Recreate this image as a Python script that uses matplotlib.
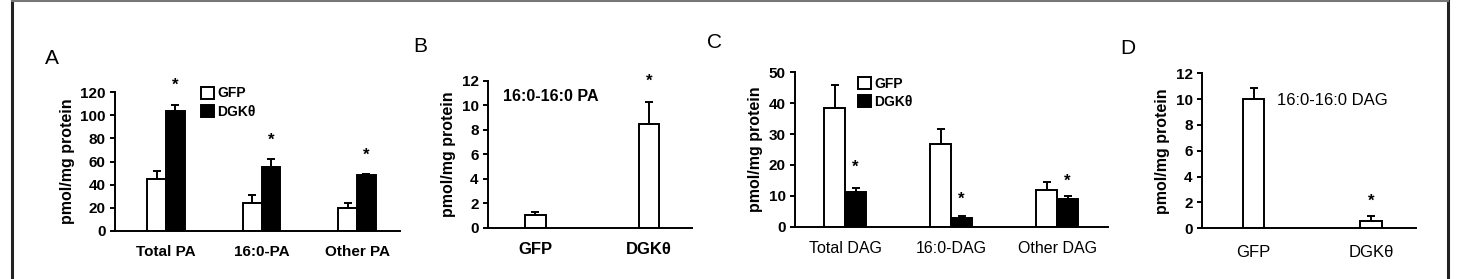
import matplotlib
matplotlib.use("Agg")
import matplotlib.pyplot as plt
import numpy as np
from matplotlib.patches import Patch
from matplotlib.lines import Line2D

plt.rcParams['font.family'] = ['Liberation Sans', 'DejaVu Sans']

# ---------------- data ----------------
series = ["GFP", "DGKθ"]
ylabel = "pmol/mg protein"

# Panel A
a_cats = ["Total PA", "16:0-PA", "Other PA"]
a_gfp = [45, 24, 20]
a_gfp_err = [6.5, 7, 4]
a_dgk = [104, 55.5, 48]
a_dgk_err = [5, 6.5, 0.8]
a_star_y = [126, 78, 65]
a_ticks = [0, 20, 40, 60, 80, 100, 120]

# Panel B
b_cats = ["GFP", "DGKθ"]
b_vals = [1.0, 8.5]
b_err = [0.3, 1.75]
b_star_y = 12.0
b_note = "16:0-16:0 PA"
b_ticks = [0, 2, 4, 6, 8, 10, 12]

# Panel C
c_cats = ["Total DAG", "16:0-DAG", "Other DAG"]
c_gfp = [38.5, 26.8, 11.9]
c_gfp_err = [7.5, 4.7, 2.5]
c_dgk = [11.1, 2.9, 8.9]
c_dgk_err = [1.5, 0.6, 1.0]
c_star_y = [19.4, 9.0, 14.6]
c_ticks = [0, 10, 20, 30, 40, 50]

# Panel D
d_cats = ["GFP", "DGKθ"]
d_vals = [10.0, 0.57]
d_err = [0.9, 0.35]
d_star_y = 2.1
d_note = "16:0-16:0 DAG"
d_ticks = [0, 2, 4, 6, 8, 10, 12]

# ---------------- figure ----------------
W, H = 1479, 279
fig = plt.figure(figsize=(W / 100, H / 100), dpi=100)

def add_ax(x0, x1, ytop, ybot):
    return fig.add_axes([x0 / W, (H - ybot) / H, (x1 - x0) / W, (ybot - ytop) / H])

YTFS = 11
LW = 1.4

def style(ax, ticks, xl, xfs, xpad, xweight="bold"):
    ax.set_ylim(0, ticks[-1])
    ax.set_yticks(ticks)
    ax.set_xlim(*xl)
    for s in ["top", "right"]:
        ax.spines[s].set_visible(False)
    ax.spines["left"].set_linewidth(LW)
    ax.spines["bottom"].set_linewidth(LW)
    ax.tick_params(axis="y", direction="out", length=3.6, width=LW, labelsize=YTFS, pad=3)
    ax.tick_params(axis="x", length=0, labelsize=xfs, pad=xpad)
    for lab in ax.get_yticklabels():
        lab.set_fontweight("bold")
    for lab in ax.get_xticklabels():
        lab.set_fontweight(xweight)
    ax.set_ylabel(ylabel, fontsize=11.5, fontweight="bold", labelpad=4)
    ax.patch.set_alpha(0)

ekw = dict(ecolor="black", elinewidth=LW, capsize=3, capthick=LW)

def grouped(ax, cats, gfp, gerr, dgk, derr, width, star_y):
    x = np.arange(len(cats))
    ax.bar(x - width / 2, gfp, width, color="white", edgecolor="black", linewidth=LW,
           yerr=[np.zeros(len(gfp)), gerr], error_kw=ekw, zorder=2)
    ax.bar(x + width / 2, dgk, width, color="black", edgecolor="black", linewidth=LW,
           yerr=[np.zeros(len(dgk)), derr], error_kw=ekw, zorder=2)
    for xi, sy in zip(x, star_y):
        ax.text(xi + width / 2, sy, "*", ha="center", va="center", fontsize=12, fontweight="bold")
    ax.set_xticks(x)
    ax.set_xticklabels(cats)

def legend(ax, anchor):
    handles = [Patch(facecolor="white", edgecolor="black", linewidth=LW),
               Patch(facecolor="black", edgecolor="black", linewidth=LW)]
    ax.legend(handles, series, loc="upper left", bbox_to_anchor=anchor, frameon=False,
              handlelength=0.95, handleheight=0.95, handletextpad=0.25, labelspacing=0.3,
              borderaxespad=0, borderpad=0, prop=dict(size=10, weight="bold"))

# Panel A
axA = add_ax(115, 400, 92, 231)
grouped(axA, a_cats, a_gfp, a_gfp_err, a_dgk, a_dgk_err, 0.194, a_star_y)
style(axA, a_ticks, (-0.534, 2.45), 11, 10)
legend(axA, (0.30, 1.04))

# Panel B
axB = add_ax(487.7, 691.7, 81, 227.7)
xb = np.arange(len(b_cats))
axB.bar(xb, b_vals, 0.18, color="white", edgecolor="black", linewidth=LW,
        yerr=[np.zeros(len(b_vals)), b_err], error_kw=ekw, zorder=2)
axB.text(xb[1], b_star_y, "*", ha="center", va="center", fontsize=12, fontweight="bold")
axB.text(-0.286, 10.7, b_note, ha="left", va="center", fontsize=11.5, fontweight="bold")
axB.set_xticks(xb)
axB.set_xticklabels(b_cats)
style(axB, b_ticks, (-0.421, 1.376), 12, 10)

# Panel C
axC = add_ax(795, 1108, 72.3, 226.7)
grouped(axC, c_cats, c_gfp, c_gfp_err, c_dgk, c_dgk_err, 0.198, c_star_y)
style(axC, c_ticks, (-0.472, 2.48), 11.5, 10, xweight="normal")
legend(axC, (0.20, 0.97))

# Panel D
axD = add_ax(1201.7, 1416, 73.3, 228.3)
xd = np.arange(len(d_cats))
axD.bar(xd, d_vals, 0.179, color="white", edgecolor="black", linewidth=LW,
        yerr=[np.zeros(len(d_vals)), d_err], error_kw=ekw, zorder=2)
axD.text(xd[1], d_star_y, "*", ha="center", va="center", fontsize=12, fontweight="bold")
axD.text(0.2, 9.93, d_note, ha="left", va="center", fontsize=12)
axD.set_xticks(xd)
axD.set_xticklabels(d_cats)
style(axD, d_ticks, (-0.441, 1.383), 12, 12, xweight="normal")

# Panel letters
for letter, px, py in [("A", 52, 58), ("B", 420, 47), ("C", 715, 43), ("D", 1128, 48)]:
    fig.text(px / W, 1 - py / H, letter, ha="center", va="center", fontsize=15)

# Outer frame
fig.add_artist(Line2D([12 / W, 12 / W], [0, 1], color="#222222", lw=2.2, transform=fig.transFigure))
fig.add_artist(Line2D([1448 / W, 1448 / W], [0, 1], color="#222222", lw=2.2, transform=fig.transFigure))
fig.add_artist(Line2D([12 / W, 1448 / W], [1 - 1.2 / H, 1 - 1.2 / H], color="#777777", lw=1.5,
                      transform=fig.transFigure))

fig.savefig("out.png", dpi=100, facecolor="white")
